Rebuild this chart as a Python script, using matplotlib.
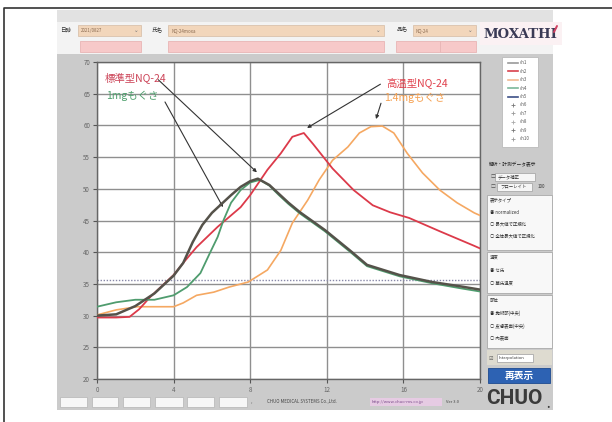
import numpy as np
import matplotlib
matplotlib.use("Agg")
import matplotlib.pyplot as plt
from matplotlib.patches import Rectangle

plt.rcParams['font.family'] = ['Noto Sans CJK JP', 'DejaVu Sans']

# --- curve data (time, temperature) ---
x_dark = [0, 1, 2, 3, 4, 4.5, 5, 5.5, 6, 6.5, 7, 7.5, 8, 8.4, 9, 9.5, 10, 10.6, 11.9, 13.2, 14.1, 15.8, 17.5, 19, 20]
y_dark = [30.0, 30.2, 31.5, 33.5, 36.3, 38.3, 41.6, 44.3, 46.2, 47.6, 49.0, 50.3, 51.2, 51.6, 50.6, 49.2, 47.8, 46.3, 43.5, 40.3, 38.0, 36.4, 35.3, 34.6, 34.1]

x_green = [0, 1, 2, 3, 4, 4.7, 5.4, 5.9, 6.3, 6.6, 7, 7.5, 8, 8.5, 9, 9.5, 10, 10.6, 11.9, 13.2, 14.1, 15.8, 17.5, 19, 20]
y_green = [31.4, 32.1, 32.5, 32.5, 33.2, 34.5, 36.7, 39.9, 42.4, 45.0, 47.8, 49.8, 51.0, 51.4, 50.5, 49.0, 47.6, 46.1, 43.3, 40.1, 37.8, 36.2, 35.1, 34.3, 33.8]

x_red = [0, 1, 1.7, 2.2, 2.8, 4, 4.5, 5.2, 6.3, 7.5, 8, 8.9, 9.6, 10.2, 10.8, 11.3, 12.3, 13.4, 14.4, 15.3, 16.3, 17.9, 19.7, 20]
y_red = [29.7, 29.7, 29.8, 31.0, 33.0, 36.4, 38.3, 40.8, 44.0, 47.1, 49.0, 53.0, 55.6, 58.2, 58.8, 57.0, 53.2, 49.8, 47.4, 46.3, 45.4, 43.3, 41.0, 40.6]

x_orange = [0, 1, 2.1, 3.1, 4, 4.5, 5.2, 6.1, 6.9, 7.9, 8.9, 9.6, 10.2, 11, 11.6, 12.3, 13.1, 13.7, 14.3, 14.9, 15.5, 16.2, 17, 17.9, 18.8, 19.7, 20]
y_orange = [30.1, 30.9, 31.4, 31.4, 31.4, 32.0, 33.2, 33.7, 34.5, 35.3, 37.2, 40.3, 44.6, 48.2, 51.4, 54.5, 56.6, 58.8, 59.8, 59.9, 58.8, 55.6, 52.5, 49.8, 47.8, 46.2, 45.8]

ref_level = 35.6

x_ticks = [0, 4, 8, 12, 16, 20]
y_ticks = [20, 25, 30, 35, 40, 45, 50, 55, 60, 65, 70]

legend_names = ['ch1', 'ch2', 'ch3', 'ch4', 'ch5', 'ch6', 'ch7', 'ch8', 'ch9', 'ch10']
legend_colors = ['#9a9a9a', '#d8404c', '#f2b890', '#7ab79a', '#3c4f86', '#777', '#999', '#aaa', '#777', '#999']

W, H = 612, 422
fig = plt.figure(figsize=(W / 100, H / 100), dpi=100)
fig.patch.set_facecolor('white')

# background "window" drawn in pixel coordinates
bg = fig.add_axes([0, 0, 1, 1])
bg.set_xlim(0, W)
bg.set_ylim(H, 0)
bg.axis('off')


def box(x0, y0, x1, y1, fc, ec='none', lw=0.6, z=1):
    bg.add_patch(Rectangle((x0, y0), x1 - x0, y1 - y0, facecolor=fc, edgecolor=ec, lw=lw, zorder=z))


def txt(x, y, s, size=4, color='#333333', **kw):
    bg.text(x, y, s, fontsize=size, color=color, va='center', zorder=5, **kw)


# outer frame
bg.plot([4, 4, W], [H, 8, 8], color='#333333', lw=1.2, zorder=6)

# window body
box(57, 10, 553, 410, '#cbcbcb')
box(57, 10, 553, 22, '#e2e2e2')
box(57, 22, 553, 54, '#f3f3f3')
box(480, 22, 562, 45, '#fbf1f3')

# header fields
txt(60, 30, '日時', 4)
box(78, 25, 141, 36, '#f2d6bb', '#d9c2ad')
txt(81, 30.5, '2021/0827', 3.2, '#8a6a50')
txt(134, 30.5, '⌄', 4, '#777')
txt(152, 30, '氏名', 4)
box(168, 25, 384, 36, '#f2d6bb', '#d9c2ad')
txt(171, 30.5, 'NQ-24moxa', 3.2, '#8a6a50')
txt(376, 30.5, '⌄', 4, '#777')
txt(397, 30, '品名', 4)
box(413, 25, 476, 36, '#f2d6bb', '#d9c2ad')
txt(416, 30.5, 'NQ-24', 3.2, '#8a6a50')
txt(468, 30.5, '⌄', 4, '#777')
box(80, 41, 141, 52, '#f7c9c9', '#e8b5b5')
box(168, 41, 384, 52, '#f7c9c9', '#e8b5b5')
box(396, 41, 440, 52, '#f7c9c9', '#e8b5b5')
box(440, 41, 476, 52, '#f7c9c9', '#e8b5b5')
bg.text(520, 34, 'MOXATHI', fontsize=9.5, color='#3a3a55', family='DejaVu Serif',
        fontweight='bold', ha='center', va='center', zorder=5)
# small pink flourish on the logo
bg.plot([554, 557], [32, 26], color='#d04060', lw=1.4, zorder=6, solid_capstyle='round')

# right side panel
box(502, 57, 538, 147, 'white', '#bbbbbb')
for i, (nm, c) in enumerate(zip(legend_names, legend_colors)):
    yy = 63 + i * 8.4
    if i < 5:
        bg.plot([508, 518], [yy, yy], color=c, lw=1.2, zorder=5)
    else:
        bg.plot([513], [yy], marker='+', color=c, ms=2.5, mew=0.6, zorder=5)
    txt(520, yy, nm, 3.2, '#555555')

txt(489, 164, '解析・計測データ表示', 3.4, '#222222')
box(495, 173, 535, 181, '#f6f6f6', '#aaaaaa')
txt(491, 177, '□', 3.5, '#555')
txt(498, 177, 'データ補正', 3.2, '#333')
box(497, 183, 532, 191, '#f6f6f6', '#aaaaaa')
txt(491, 187, '□', 3.5, '#555')
txt(500, 187, 'フローレイト', 3.2, '#333')
txt(538, 187, '100', 3.2, '#333')

box(487, 195, 552, 250, '#f8f8f8', '#aaaaaa')
txt(490, 200, '表示タイプ', 3.2, '#333')
txt(490, 212, '◉ normalized', 3.2, '#333')
txt(490, 224, '○ 最大値で正規化', 3.2, '#333')
txt(490, 236, '○ 全体最大値で正規化', 3.2, '#333')
box(487, 252, 552, 293, '#f8f8f8', '#aaaaaa')
txt(490, 257, '温度', 3.2, '#333')
txt(490, 270, '◉ セ氏', 3.2, '#333')
txt(490, 283, '○ 華氏温度', 3.2, '#333')
box(487, 295, 552, 348, '#f8f8f8', '#aaaaaa')
txt(490, 301, '部位', 3.2, '#333')
txt(490, 313, '◉ 施術部(中央)', 3.2, '#333')
txt(490, 326, '○ 皮膚表面(中央)', 3.2, '#333')
txt(490, 338, '○ 肉表面', 3.2, '#333')
box(487, 350, 552, 365, '#dedbd0')
txt(489, 358, '☑', 3.6, '#555')
box(497, 354, 533, 362, 'white', '#aaaaaa')
txt(499, 358, 'Interpolation', 3, '#333')
box(488, 368, 550, 383, '#2d62b3', '#1d4a90')
bg.text(519, 375.5, '再表示', fontsize=7, color='white', fontweight='bold',
        ha='center', va='center', zorder=5)
bg.text(514, 399, 'CHUO', fontsize=15, color='#3b3b3b', fontweight='bold', family='Roboto',
        ha='center', va='center', zorder=5)
bg.text(546, 404, '.', fontsize=8, color='#3b3b3b', fontweight='bold', zorder=5, va='center')

# bottom status row
for x0, x1 in [(60, 87), (92, 118), (123, 150), (155, 183), (187, 214), (219, 247)]:
    box(x0, 397, x1, 407, '#f7f7f7', '#bbbbbb')
txt(251, 402, ',', 3.5, '#555')
txt(267, 402, 'CHUO MEDICAL SYSTEMS Co.,Ltd.', 3.2, '#444')
box(370, 398, 442, 406, '#e6cbe3')
txt(372, 402, 'http://www.chuo-ms.co.jp', 3.0, '#7a4a8a')
txt(446, 402, 'Ver 3.0', 3.0, '#444')

# --- main chart ---
ax = fig.add_axes([97 / W, 1 - 379 / H, (480 - 97) / W, (379 - 62) / H])
ax.set_facecolor('white')
ax.set_xlim(0, 20)
ax.set_ylim(20, 70)
ax.set_xticks(x_ticks)
ax.set_yticks(y_ticks)
ax.tick_params(labelsize=4.5, labelcolor='#666666', color='#555555', length=3, width=0.8, pad=2)
ax.grid(True, color='#8f8f8f', lw=1.0)
ax.set_axisbelow(True)
for s in ax.spines.values():
    s.set_color('#666666')
    s.set_linewidth(1.0)

ax.axhline(ref_level, color='#8888a8', lw=1.0, ls=(0, (1, 1.2)), zorder=2)

ax.plot(x_orange, y_orange, color='#f5a862', lw=1.2, zorder=3)
ax.plot(x_red, y_red, color='#dc3a4a', lw=1.3, zorder=4)
ax.plot(x_green, y_green, color='#4f9c6e', lw=1.3, zorder=4)
ax.plot(x_dark, y_dark, color='#55524a', lw=1.8, zorder=5)

# annotation texts and arrows
ax.text(0.42, 67.6, '標準型NQ-24', fontsize=7.5, color='#cc4458', va='center')
ax.text(0.47, 64.6, '1mgもぐさ', fontsize=7.5, color='#4fa06e', va='center')
ax.text(15.1, 66.8, '高温型NQ-24', fontsize=7.5, color='#e0404c', va='center')
ax.text(15.0, 64.3, '1.4mgもぐさ', fontsize=7.5, color='#f5a050', va='center')

arr = dict(arrowstyle='-|>', color='#333333', lw=0.8, mutation_scale=5, shrinkA=0, shrinkB=0)
ax.annotate('', xy=(8.35, 52.6), xytext=(3.2, 67.2), arrowprops=arr)
ax.annotate('', xy=(6.58, 47.1), xytext=(3.55, 63.7), arrowprops=arr)
ax.annotate('', xy=(10.97, 59.6), xytext=(14.8, 66.5), arrowprops=arr)
ax.annotate('', xy=(14.57, 61.0), xytext=(14.83, 63.5), arrowprops=arr)

fig.savefig('out.png', dpi=100, facecolor='white')
